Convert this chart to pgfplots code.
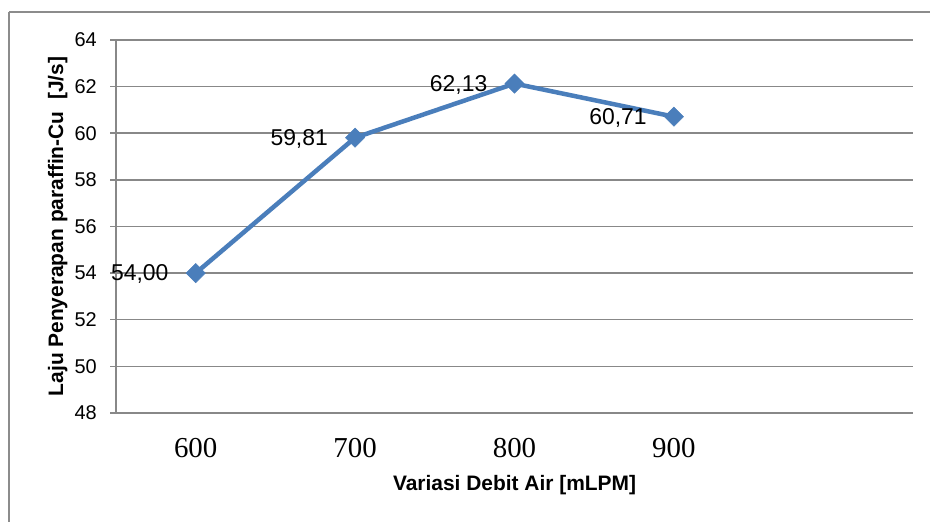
\documentclass[border=0pt]{standalone}
\usepackage{pgfplots}
\pgfplotsset{compat=1.18}
\usepackage{fontspec}
\setmainfont{Liberation Sans}[Ligatures=NoCommon]
\newfontfamily\tickserif{Liberation Serif}

\definecolor{seriesblue}{HTML}{4A7EBB}
\definecolor{gridgray}{HTML}{888888}
\definecolor{framegray}{HTML}{8C8C8C}

\begin{document}
\begin{tikzpicture}[x=1bp,y=1bp]
  \useasboundingbox (0,0) rectangle (930,522);
  \fill[white] (0,0) rectangle (930,522);
  % chart frame
  \draw[framegray, line width=1.2bp] (9,510) -- (940,510);
  \draw[framegray, line width=1.2bp] (9,510) -- (9,-10);

  \begin{axis}[
    at={(116bp,109bp)}, anchor=south west,
    scale only axis,
    width=797bp, height=373bp,
    clip=false,
    xmin=-0.5, xmax=4.5,
    ymin=48, ymax=64,
    xtick={0,1,2,3},
    xticklabels={600,700,800,900},
    ytick={48,50,...,64},
    axis lines=left,
    axis line style={-, gridgray, line width=1.5bp},
    ymajorgrids,
    grid style={gridgray, line width=1.5bp},
    tick align=outside,
    major tick length=6bp,
    y tick style={gridgray, line width=1.5bp},
    x tick style={draw=none},
    /pgf/number format/assume math mode=true,
    yticklabel style={font=\fontsize{20}{20}\selectfont, anchor=east, inner sep=0pt, xshift=-13bp},
    xticklabel style={font=\tickserif\fontsize{29}{29}\selectfont, anchor=base, inner sep=0pt, yshift=-39bp},
    xlabel={Variasi Debit Air [mLPM]},
    ylabel={Laju Penyerapan paraffin-Cu~ [J/s]},
    xlabel style={font=\bfseries\fontsize{21}{21}\selectfont, at={(axis description cs:0.5,-0.209)}, anchor=base, inner sep=0pt},
    ylabel style={font=\bfseries\fontsize{21}{21}\selectfont, at={(axis description cs:-0.0665,0.5)}, anchor=base, inner sep=0pt},
  ]
    \addplot[
      seriesblue, line width=4.5bp,
      mark=square*, mark size=6.8bp,
      mark options={rotate=45, line width=0.5bp, fill=seriesblue},
      point meta=y,
      nodes near coords={\pgfmathprintnumber[use comma,fixed,fixed zerofill,precision=2,assume math mode=true]{\pgfplotspointmeta}},
      nodes near coords style={font=\fontsize{23}{23}\selectfont, text=black, anchor=east, inner sep=0pt, xshift=-27bp, yshift=-1bp},
    ] coordinates {
      (0,54.00)
      (1,59.81)
      (2,62.13)
      (3,60.71)
    };
  \end{axis}
\end{tikzpicture}
\end{document}
